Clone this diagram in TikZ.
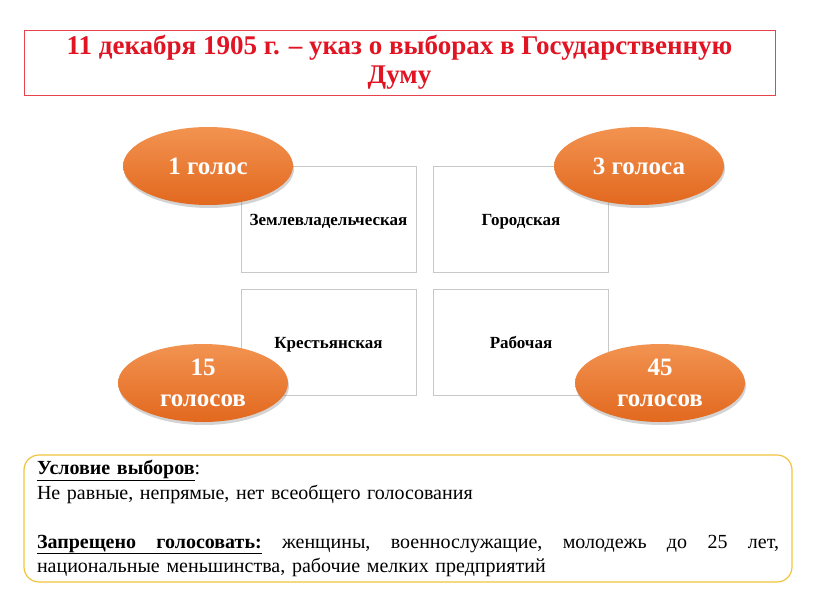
\documentclass[tikz,border=0pt]{standalone}
\usepackage{fontspec}
\setmainfont{Liberation Serif}
\usetikzlibrary{shadows,shapes.geometric}

\definecolor{titred}{RGB}{225,20,35}
\definecolor{ramka}{RGB}{200,200,200}
\definecolor{oranzh}{RGB}{240,128,50}
\definecolor{oranzhd}{RGB}{226,104,30}
\definecolor{zhelt}{RGB}{240,195,60}

\newlength\zapw
\newlength\zapg

\tikzset{
  titlebox/.style={draw=titred!80,line width=0.8pt,minimum width=751pt,minimum height=65pt,
    align=center,text=titred,font=\bfseries\fontsize{27}{29}\selectfont},
  kuria/.style={draw=ramka,line width=0.9pt,minimum width=175pt,minimum height=106pt,
    text height=12pt,text depth=0pt,font=\bfseries\fontsize{17}{20}\selectfont},
  golos/.style={ellipse,minimum width=170pt,minimum height=78pt,inner sep=0pt,align=center,
    top color=oranzh!85!white,bottom color=oranzhd,draw=none,
    drop shadow={shadow xshift=1pt,shadow yshift=-3pt,opacity=0.35},
    text=white,font=\bfseries\fontsize{25}{31}\selectfont},
  uslovie/.style={draw=zhelt,line width=1.2pt,rounded corners=15pt,minimum width=768pt,
    minimum height=127pt,text width=742pt,font=\fontsize{20}{24.5}\selectfont}
}

\begin{document}
\begin{tikzpicture}[x=1pt,y=-1pt]
\useasboundingbox (0,0) rectangle (816,613);
% zagolovok
\node[titlebox] (title) at (399.5,62.5) {11 декабря 1905 г. – указ о выборах в Государственную\\Думу};
% kurii
\node[kuria] (zeml) at (328.5,219) {Землевладельческая};
\node[kuria] (gor) at (521,219) {Городская};
\node[kuria] (krest) at (328.5,342) {Крестьянская};
\node[kuria] (rab) at (521,342) {Рабочая};
% golosa
\node[golos] (g1) at (208,166) {1 голос};
\node[golos] (g3) at (639,166) {3 голоса};
\node[golos] (g15) at (203,383) {15\\голосов};
\node[golos] (g45) at (660,383) {45\\голосов};
% uslovija
\node[uslovie] (usl) at (408,518.5) {%
\settowidth\zapw{\textbf{Запрещено}\textbf{голосовать:}женщины,военнослужащие,молодежьдо25лет,}%
\zapg=\dimexpr(\linewidth-\zapw)/7\relax
\underline{\textbf{Условие выборов}}:\\
Не равные, непрямые, нет всеобщего голосования\par\vspace{24.5pt}
\hbox to\linewidth{\underline{\textbf{Запрещено}\hskip\zapg\textbf{голосовать:}}\hskip\zapg
женщины,\hskip\zapg военнослужащие,\hskip\zapg молодежь\hskip\zapg до\hskip\zapg 25\hskip\zapg лет,}
национальные меньшинства, рабочие мелких предприятий};
\end{tikzpicture}
\end{document}
